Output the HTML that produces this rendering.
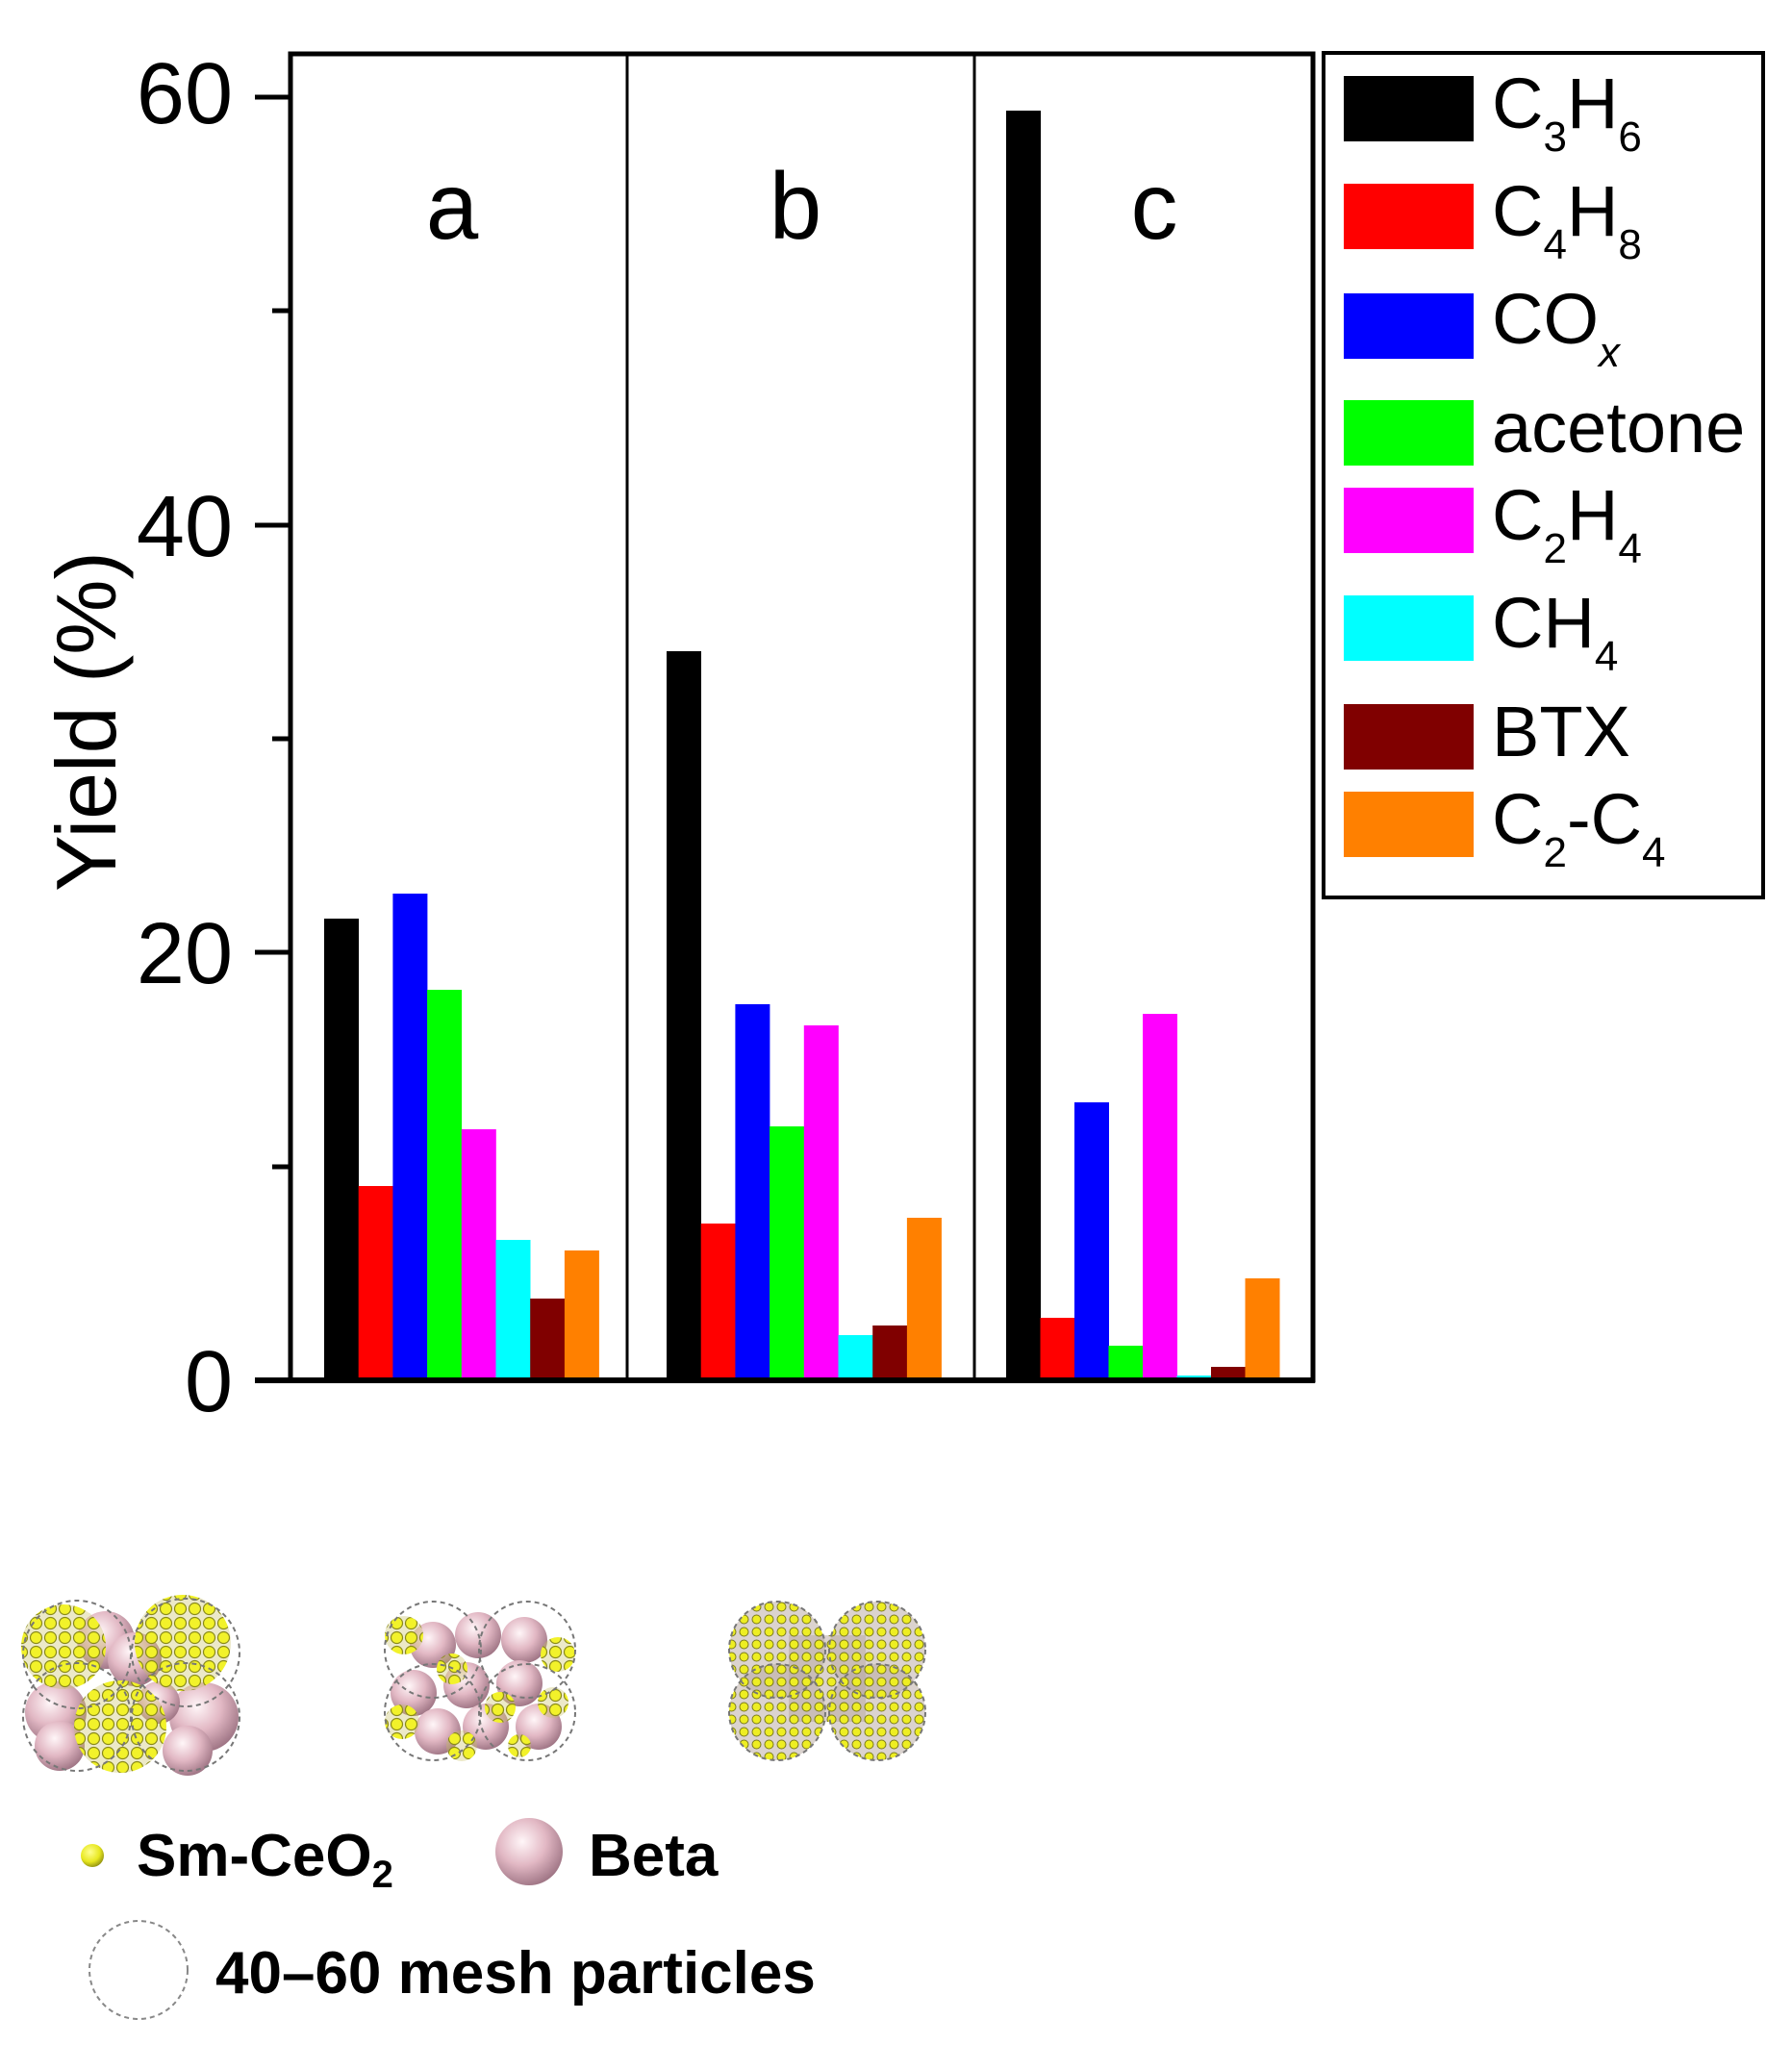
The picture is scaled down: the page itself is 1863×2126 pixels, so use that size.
<!DOCTYPE html>
<html><head><meta charset="utf-8"><style>
html,body{margin:0;padding:0;background:#fff;}
svg{display:block;}
text{font-family:"Liberation Sans",Arial,sans-serif;fill:#000;}
</style></head><body>
<svg width="1863" height="2126" viewBox="0 0 1863 2126" xmlns="http://www.w3.org/2000/svg">
<defs>
<pattern id="yd" width="15" height="15" patternUnits="userSpaceOnUse">
<rect width="15" height="15" fill="#c8c060" opacity="0.35"/>
<circle cx="7.5" cy="7.5" r="6" fill="#f2f22a" stroke="#8a8a1a" stroke-width="1.2"/>
</pattern>
<pattern id="yd2" width="13" height="13" patternUnits="userSpaceOnUse">
<rect width="13" height="13" fill="#b8a8a0" opacity="0.5"/>
<circle cx="6.5" cy="6.5" r="4.5" fill="#eeee22" stroke="#7a7a1a" stroke-width="1"/>
</pattern>
<radialGradient id="pk" cx="0.4" cy="0.35" r="0.7">
<stop offset="0" stop-color="#fff6f8"/>
<stop offset="0.5" stop-color="#e2b8c4"/>
<stop offset="1" stop-color="#9a7080"/>
</radialGradient>
<radialGradient id="yl" cx="0.4" cy="0.35" r="0.7">
<stop offset="0" stop-color="#ffff90"/>
<stop offset="0.6" stop-color="#e8e820"/>
<stop offset="1" stop-color="#8a8a10"/>
</radialGradient>
</defs>

<g>
<rect x="337" y="955" width="36" height="480" fill="#000"/>
<rect x="372.7" y="1233" width="36" height="202" fill="#ff0000"/>
<rect x="408.4" y="929" width="36" height="506" fill="#0000ff"/>
<rect x="444.1" y="1029" width="36" height="406" fill="#00ff00"/>
<rect x="479.8" y="1174" width="36" height="261" fill="#ff00ff"/>
<rect x="515.5" y="1289" width="36" height="146" fill="#00ffff"/>
<rect x="551.2" y="1350" width="36" height="85" fill="#800000"/>
<rect x="586.9" y="1300" width="36" height="135" fill="#ff8000"/>
</g>
<g>
<rect x="693" y="677" width="36" height="758" fill="#000"/>
<rect x="728.7" y="1272" width="36" height="163" fill="#ff0000"/>
<rect x="764.4" y="1044" width="36" height="391" fill="#0000ff"/>
<rect x="800.1" y="1171" width="36" height="264" fill="#00ff00"/>
<rect x="835.8" y="1066" width="36" height="369" fill="#ff00ff"/>
<rect x="871.5" y="1388" width="36" height="47" fill="#00ffff"/>
<rect x="907.2" y="1378" width="36" height="57" fill="#800000"/>
<rect x="942.9" y="1266" width="36" height="169" fill="#ff8000"/>
</g>
<g>
<rect x="1046" y="115" width="36" height="1320" fill="#000"/>
<rect x="1081.5" y="1370" width="36" height="65" fill="#ff0000"/>
<rect x="1117" y="1146" width="36" height="289" fill="#0000ff"/>
<rect x="1152.5" y="1399" width="36" height="36" fill="#00ff00"/>
<rect x="1188" y="1054" width="36" height="381" fill="#ff00ff"/>
<rect x="1223.5" y="1430" width="36" height="5" fill="#00ffff"/>
<rect x="1259" y="1421" width="36" height="14" fill="#800000"/>
<rect x="1294.5" y="1329" width="36" height="106" fill="#ff8000"/>
</g>

<rect x="302" y="56" width="1063" height="1379" fill="none" stroke="#000" stroke-width="5"/>
<line x1="652" y1="56" x2="652" y2="1435" stroke="#000" stroke-width="3"/>
<line x1="1013" y1="56" x2="1013" y2="1435" stroke="#000" stroke-width="3"/>
<line x1="265" y1="1435" x2="1367" y2="1435" stroke="#000" stroke-width="6"/>
<g stroke="#000" stroke-width="5">
<line x1="265" y1="101" x2="302" y2="101"/>
<line x1="265" y1="546" x2="302" y2="546"/>
<line x1="265" y1="990" x2="302" y2="990"/>
<line x1="283" y1="323" x2="302" y2="323"/>
<line x1="283" y1="768" x2="302" y2="768"/>
<line x1="283" y1="1213" x2="302" y2="1213"/>
</g>
<g font-size="90" text-anchor="end">
<text x="242" y="128">60</text>
<text x="242" y="578">40</text>
<text x="242" y="1022">20</text>
<text x="242" y="1467">0</text>
</g>
<text transform="translate(120,750) rotate(-90)" font-size="88" text-anchor="middle">Yield (%)</text>
<g font-size="98" text-anchor="middle">
<text x="470" y="248">a</text>
<text x="827" y="248">b</text>
<text x="1200" y="248">c</text>
</g>

<rect x="1376" y="55" width="457" height="878" fill="#fff" stroke="#000" stroke-width="4"/>
<rect x="1397" y="79" width="135" height="68" fill="#000"/>
<rect x="1397" y="191" width="135" height="68" fill="#ff0000"/>
<rect x="1397" y="305" width="135" height="68" fill="#0000ff"/>
<rect x="1397" y="416" width="135" height="68" fill="#00ff00"/>
<rect x="1397" y="507" width="135" height="68" fill="#ff00ff"/>
<rect x="1397" y="619" width="135" height="68" fill="#00ffff"/>
<rect x="1397" y="732" width="135" height="68" fill="#800000"/>
<rect x="1397" y="823" width="135" height="68" fill="#ff8000"/>
<g font-size="74">
<text x="1551" y="133">C<tspan font-size="44" dy="24">3</tspan><tspan dy="-24">H</tspan><tspan font-size="44" dy="24">6</tspan></text>
<text x="1551" y="245">C<tspan font-size="44" dy="24">4</tspan><tspan dy="-24">H</tspan><tspan font-size="44" dy="24">8</tspan></text>
<text x="1551" y="357">CO<tspan font-size="44" font-style="italic" dy="24">x</tspan></text>
<text x="1551" y="470">acetone</text>
<text x="1551" y="561">C<tspan font-size="44" dy="24">2</tspan><tspan dy="-24">H</tspan><tspan font-size="44" dy="24">4</tspan></text>
<text x="1551" y="673">CH<tspan font-size="44" dy="24">4</tspan></text>
<text x="1551" y="786">BTX</text>
<text x="1551" y="877">C<tspan font-size="44" dy="24">2</tspan><tspan dy="-24">-C</tspan><tspan font-size="44" dy="24">4</tspan></text>
</g>

<g>
<circle cx="110" cy="1705" r="30" fill="url(#pk)"/>
<circle cx="140" cy="1725" r="28" fill="url(#pk)"/>
<circle cx="58" cy="1780" r="32" fill="url(#pk)"/>
<circle cx="62" cy="1815" r="26" fill="url(#pk)"/>
<circle cx="212" cy="1785" r="36" fill="url(#pk)"/>
<circle cx="195" cy="1820" r="26" fill="url(#pk)"/>
<circle cx="165" cy="1770" r="22" fill="url(#pk)"/>
<circle cx="66" cy="1712" r="44" fill="url(#yd)"/>
<circle cx="190" cy="1708" r="50" fill="url(#yd)"/>
<circle cx="125" cy="1795" r="48" fill="url(#yd)"/>
<g fill="none" stroke="#777" stroke-width="2" stroke-dasharray="5,4">
<circle cx="80" cy="1720" r="56"/><circle cx="193" cy="1718" r="56"/>
<circle cx="80" cy="1785" r="56"/><circle cx="193" cy="1785" r="56"/>
</g>
</g>
<g>
<circle cx="450" cy="1710" r="24" fill="url(#pk)"/>
<circle cx="497" cy="1700" r="24" fill="url(#pk)"/>
<circle cx="545" cy="1705" r="24" fill="url(#pk)"/>
<circle cx="430" cy="1760" r="24" fill="url(#pk)"/>
<circle cx="485" cy="1752" r="24" fill="url(#pk)"/>
<circle cx="540" cy="1750" r="24" fill="url(#pk)"/>
<circle cx="455" cy="1800" r="24" fill="url(#pk)"/>
<circle cx="505" cy="1795" r="24" fill="url(#pk)"/>
<circle cx="560" cy="1795" r="24" fill="url(#pk)"/>
<circle cx="420" cy="1700" r="20" fill="url(#yd)"/>
<circle cx="580" cy="1720" r="18" fill="url(#yd)"/>
<circle cx="470" cy="1735" r="16" fill="url(#yd)"/>
<circle cx="520" cy="1775" r="16" fill="url(#yd)"/>
<circle cx="418" cy="1790" r="18" fill="url(#yd)"/>
<circle cx="480" cy="1815" r="16" fill="url(#yd)"/>
<circle cx="575" cy="1770" r="16" fill="url(#yd)"/>
<circle cx="540" cy="1815" r="12" fill="url(#yd)"/>
<g fill="none" stroke="#777" stroke-width="2" stroke-dasharray="5,4">
<circle cx="450" cy="1715" r="50"/><circle cx="548" cy="1715" r="50"/>
<circle cx="450" cy="1780" r="50"/><circle cx="548" cy="1780" r="50"/>
</g>
</g>
<g>
<circle cx="808" cy="1715" r="50" fill="url(#yd2)"/>
<circle cx="912" cy="1715" r="50" fill="url(#yd2)"/>
<circle cx="808" cy="1780" r="50" fill="url(#yd2)"/>
<circle cx="912" cy="1780" r="50" fill="url(#yd2)"/>
<rect x="820" y="1700" width="80" height="90" fill="url(#yd2)"/>
<g fill="none" stroke="#777" stroke-width="2" stroke-dasharray="5,4">
<circle cx="808" cy="1715" r="50"/><circle cx="912" cy="1715" r="50"/>
<circle cx="808" cy="1780" r="50"/><circle cx="912" cy="1780" r="50"/>
</g>
</g>

<circle cx="96" cy="1929" r="12" fill="url(#yl)"/>
<text x="142" y="1950" font-size="62" font-weight="bold">Sm-CeO<tspan font-size="40" dy="12">2</tspan></text>
<circle cx="550" cy="1925" r="35" fill="url(#pk)"/>
<text x="612" y="1950" font-size="62" font-weight="bold">Beta</text>
<circle cx="144" cy="2048" r="51" fill="none" stroke="#888" stroke-width="2" stroke-dasharray="5,4"/>
<text x="224" y="2072" font-size="62" font-weight="bold">40–60 mesh particles</text>
</svg>
</body></html>
